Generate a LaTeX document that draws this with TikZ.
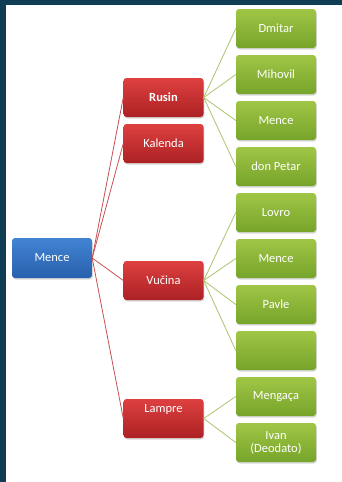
\documentclass[tikz,border=0pt]{standalone}
\usepackage{fontspec}
\setmainfont{Carlito}
\usetikzlibrary{shadows}
\definecolor{bgdark}{RGB}{15,62,84}
\definecolor{redtop}{RGB}{222,64,64}
\definecolor{redbot}{RGB}{172,33,36}
\definecolor{bluetop}{RGB}{66,132,212}
\definecolor{bluebot}{RGB}{40,96,172}
\definecolor{greentop}{RGB}{160,198,70}
\definecolor{greenbot}{RGB}{118,164,42}
\definecolor{redline}{RGB}{200,80,84}
\definecolor{greenline}{RGB}{172,196,110}
\tikzset{
  box/.style={rounded corners=3pt, minimum width=80pt, minimum height=39pt, inner sep=0pt,
    text=white, font=\fontsize{12.5}{13}\selectfont, align=center,
    drop shadow={shadow xshift=0.8pt, shadow yshift=-1.5pt, opacity=0.3}},
  rootbox/.style={box, top color=bluetop, bottom color=bluebot, minimum height=40pt},
  redbox/.style={box, top color=redtop, bottom color=redbot},
  greenbox/.style={box, top color=greentop, bottom color=greenbot},
  redlink/.style={draw=redline, line width=0.8pt},
  greenlink/.style={draw=greenline, line width=0.8pt}
}
\begin{document}
\begin{tikzpicture}[x=1pt,y=-1pt]
\fill[bgdark] (0,0) rectangle (342,482);
\fill[white] (6,5) rectangle (342,482);
\useasboundingbox (0,0) rectangle (342,482);

\node[rootbox] (root) at (52,258) {Mence};

\node[redbox, font=\bfseries\fontsize{12.5}{13}\selectfont] (rusin) at (163.5,97.5) {Rusin};
\node[redbox] (kalenda) at (163.5,143.5) {Kalenda};
\node[redbox] (vucina) at (163.5,280.5) {Vučina};
\node[redbox, text depth=21pt] (lampre) at (163.5,418.5) {Lampre};

\node[greenbox] (g1) at (276,28.5) {Dmitar};
\node[greenbox] (g2) at (276,74.5) {Mihovil};
\node[greenbox] (g3) at (276,120.5) {Mence};
\node[greenbox] (g4) at (276,166.5) {don Petar};
\node[greenbox] (g5) at (276,212.5) {Lovro};
\node[greenbox] (g6) at (276,258.5) {Mence};
\node[greenbox] (g7) at (276,304.5) {Pavle};
\node[greenbox] (g8) at (276,350.5) {};
\node[greenbox] (g9) at (276,396.5) {Mengaça};
\node[greenbox] (g10) at (276,442.5) {Ivan\\(Deodato)};

\begin{scope}[on background layer/.style={}]
\draw[redlink] (root.east) -- (rusin.west);
\draw[redlink] (root.east) -- (kalenda.west);
\draw[redlink] (root.east) -- (vucina.west);
\draw[redlink] (root.east) -- (lampre.west);
\foreach \g in {g1,g2,g3,g4} \draw[greenlink] (rusin.east) -- (\g.west);
\foreach \g in {g5,g6,g7,g8} \draw[greenlink] (vucina.east) -- (\g.west);
\foreach \g in {g9,g10} \draw[greenlink] (lampre.east) -- (\g.west);
\end{scope}
\end{tikzpicture}
\end{document}
